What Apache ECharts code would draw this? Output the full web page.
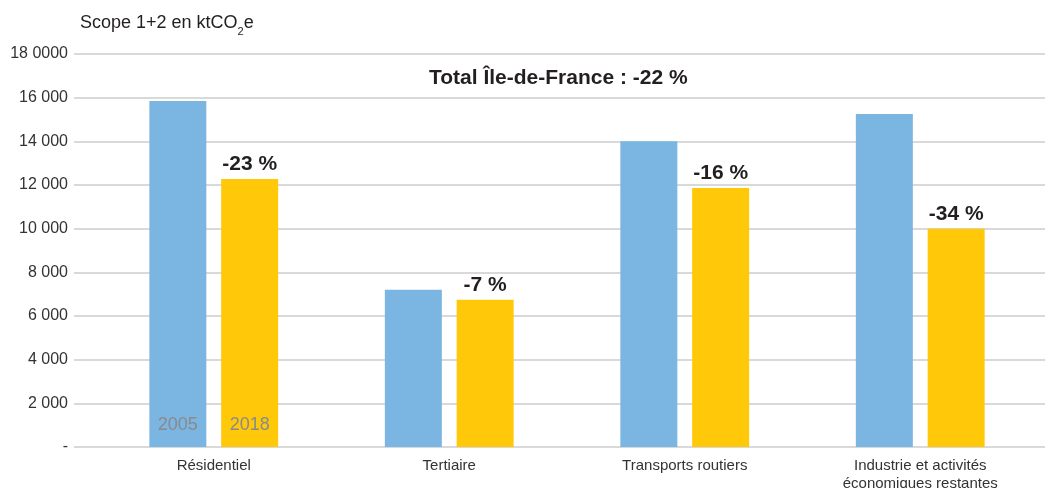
<!DOCTYPE html>
<html>
<head>
<meta charset="utf-8">
<script src="https://cdn.jsdelivr.net/npm/echarts@6/dist/echarts.min.js"></script>
<style>
  html, body { margin: 0; padding: 0; background: #fff; }
  #main { width: 1045px; height: 488px; }
</style>
</head>
<body>
<div id="main"></div>
<script>
var categories = ['Résidentiel', 'Tertiaire', 'Transports routiers', 'Industrie et activités\néconomiques restantes'];
var values2005 = [15850, 7200, 14000, 15250];
var values2018 = [12270, 6750, 11860, 10000];
var changeLabels = ['-23 %', '-7 %', '-16 %', '-34 %'];
var yearLabels = ['2005', '2018'];
var yTickLabels = ['-', '2 000', '4 000', '6 000', '8 000', '10 000', '12 000', '14 000', '16 000', '18 0000'];

var font = "'Liberation Sans Narrow', 'Arial Narrow', 'Liberation Sans', sans-serif";
var blue = '#7BB6E3';
var yellow = '#FFC90A';
var barWidth = 57;

var chart = echarts.init(document.getElementById('main'));

// label "2005"/"2018" uniquement sur la premiere paire de barres
function yearLabel(i) {
    return {
        show: true,
        position: 'insideBottom',
        distance: 13,
        fontFamily: font,
        fontSize: 18,
        color: '#8a8a8a',
        formatter: function (p) { return p.dataIndex === 0 ? yearLabels[i] : ''; }
    };
}

var option = {
    animation: false,
    title: [
        {
            text: 'Scope 1+2 en ktCO{sub|2}e',
            left: 80,
            top: 9,
            padding: 0,
            textStyle: {
                fontFamily: font,
                fontSize: 18,
                fontWeight: 'normal',
                color: '#231f20',
                lineHeight: 28,
                rich: {
                    sub: { fontFamily: font, fontSize: 11, lineHeight: 11, verticalAlign: 'bottom', color: '#231f20' }
                }
            }
        },
        {
            text: 'Total Île-de-France : -22 %',
            left: 429,
            top: 68,
            padding: 0,
            textStyle: { fontFamily: font, fontSize: 21, fontWeight: 'bold', color: '#231f20' }
        }
    ],
    grid: [
        { left: 74, right: 0, top: 54, bottom: 41, outerBoundsMode: 'none' },
        { left: 96, right: 7, top: 54, bottom: 41, outerBoundsMode: 'none' }
    ],
    xAxis: [
        { gridIndex: 0, type: 'value', show: false },
        {
            gridIndex: 1,
            type: 'category',
            data: categories,
            axisLine: { show: false },
            axisTick: { show: false },
            axisLabel: { margin: 10, fontFamily: font, fontSize: 15, lineHeight: 18, color: '#333' }
        },
        { gridIndex: 1, type: 'category', data: categories, show: false }
    ],
    yAxis: [
        {
            gridIndex: 0,
            type: 'value',
            min: 0,
            max: 18000,
            interval: 2000,
            axisLine: { show: false },
            axisTick: { show: false },
            splitLine: { lineStyle: { color: '#d9d9d9', width: 2 } },
            axisLabel: {
                margin: 6,
                fontFamily: font,
                fontSize: 16,
                color: '#333',
                formatter: function (v) { return yTickLabels[Math.round(v / 2000)]; }
            }
        },
        { gridIndex: 1, type: 'value', min: 0, max: 18000, interval: 2000, show: false }
    ],
    series: [
        {
            name: '2005',
            type: 'bar',
            xAxisIndex: 1,
            yAxisIndex: 1,
            barWidth: barWidth,
            barGap: '26%',
            itemStyle: { color: blue },
            data: values2005
        },
        {
            name: '2018',
            type: 'bar',
            xAxisIndex: 1,
            yAxisIndex: 1,
            barWidth: barWidth,
            barGap: '26%',
            itemStyle: { color: yellow },
            label: {
                show: true,
                position: 'top',
                distance: 4,
                fontFamily: font,
                fontSize: 21,
                fontWeight: 'bold',
                color: '#231f20',
                formatter: function (p) { return changeLabels[p.dataIndex]; }
            },
            data: values2018
        },
        {
            type: 'bar',
            xAxisIndex: 2,
            yAxisIndex: 1,
            barWidth: barWidth,
            barGap: '26%',
            itemStyle: { color: 'rgba(0,0,0,0)' },
            label: yearLabel(0),
            data: values2005
        },
        {
            type: 'bar',
            xAxisIndex: 2,
            yAxisIndex: 1,
            barWidth: barWidth,
            barGap: '26%',
            itemStyle: { color: 'rgba(0,0,0,0)' },
            label: yearLabel(1),
            data: values2018
        }
    ]
};

chart.setOption(option);
</script>
</body>
</html>
